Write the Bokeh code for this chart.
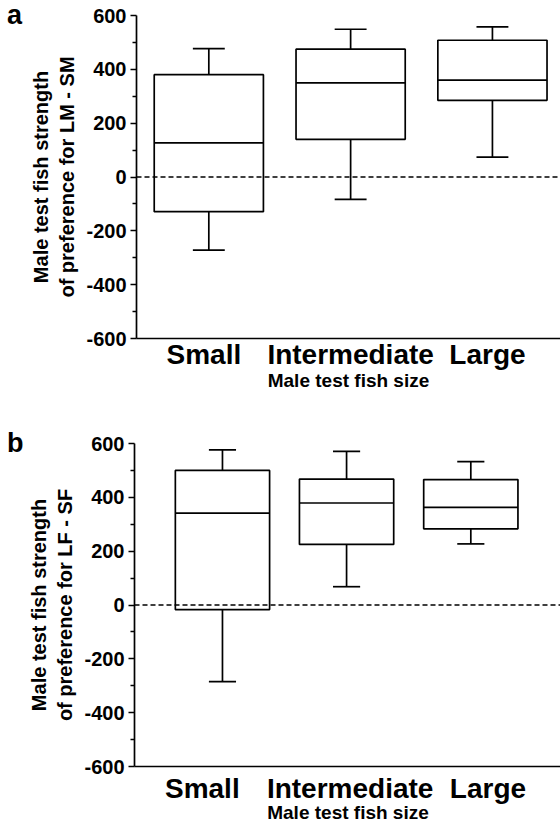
from bokeh.plotting import figure
from bokeh.layouts import column, row
from bokeh.models import Range1d, FixedTicker, Span, ColumnDataSource, Div
from bokeh.embed import file_html
from bokeh.resources import INLINE

# ---------------- data ----------------
categories = ["Small", "Intermediate", "Large"]
y_ticks = [-600, -400, -200, 0, 200, 400, 600]
y_tick_labels = ["-600", "-400", "-200", "0", "200", "400", "600"]

# panel a: preference for LM - SM
a_low = [-272, -83, 74]
a_q1 = [-129, 140, 285]
a_med = [127, 350, 360]
a_q3 = [380, 475, 508]
a_high = [477, 549, 558]

# panel b: preference for LF - SF
b_low = [-285, 68, 227]
b_q1 = [-17, 225, 283]
b_med = [341, 379, 363]
b_q3 = [500, 468, 466]
b_high = [576, 571, 533]

FONT = "Liberation Sans"
LETTER_W = 25


def letter_div(letter, height, top):
    html = ('<div style="position:relative; left:7px; top:%dpx; margin:0; padding:0; '
            'font-family:\'Liberation Sans\', Arial, sans-serif; font-weight:bold; '
            'font-size:27px; line-height:31px; color:black;">%s</div>' % (top, letter))
    return Div(text=html, width=LETTER_W, height=height, margin=0)


def make_panel(ylabel, low, q1, med, q3, high, centers, box_w, cap_w,
               left_b, top_b, bottom_b, cat_standoff, lab_standoff):
    p = figure(width=560 - LETTER_W, height=top_b + 323 + bottom_b,
               frame_width=560 - LETTER_W - left_b, frame_height=323,
               output_backend="svg", toolbar_location=None,
               x_range=Range1d(0.49, 3.48), y_range=Range1d(-600, 600),
               min_border_left=left_b, min_border_right=0,
               min_border_top=top_b, min_border_bottom=bottom_b)
    p.outline_line_color = None
    p.xgrid.visible = False
    p.ygrid.visible = False
    p.background_fill_color = "white"

    src = ColumnDataSource(dict(
        x=centers,
        left=[c - box_w / 2 for c in centers],
        right=[c + box_w / 2 for c in centers],
        cl=[c - cap_w / 2 for c in centers],
        cr=[c + cap_w / 2 for c in centers],
        low=low, q1=q1, med=med, q3=q3, high=high,
    ))

    # zero reference line
    p.add_layout(Span(location=0, dimension="width", line_color="black",
                      line_width=1.4, line_dash="5 3"))

    lw = 1.7
    # whiskers
    p.segment(x0="x", y0="q3", x1="x", y1="high", source=src, line_color="black", line_width=lw)
    p.segment(x0="x", y0="q1", x1="x", y1="low", source=src, line_color="black", line_width=lw)
    p.segment(x0="cl", y0="high", x1="cr", y1="high", source=src, line_color="black", line_width=lw)
    p.segment(x0="cl", y0="low", x1="cr", y1="low", source=src, line_color="black", line_width=lw)
    # boxes
    p.quad(left="left", right="right", bottom="q1", top="q3", source=src,
           fill_alpha=0, line_color="black", line_width=lw)
    # medians
    p.segment(x0="left", y0="med", x1="right", y1="med", source=src, line_color="black", line_width=lw)

    # y axis
    ya = p.yaxis[0]
    ya.ticker = FixedTicker(ticks=y_ticks, minor_ticks=[-500, -300, -100, 100, 300, 500])
    ya.major_label_overrides = dict(zip(y_ticks, y_tick_labels))
    ya.major_tick_out = 6
    ya.major_tick_in = 0
    ya.minor_tick_out = 4
    ya.minor_tick_in = 0
    ya.axis_line_width = lw
    ya.major_tick_line_width = lw
    ya.minor_tick_line_width = 1.4
    ya.major_label_text_font = FONT
    ya.major_label_text_font_style = "bold"
    ya.major_label_text_font_size = "20px"
    ya.major_label_text_color = "black"
    ya.major_label_standoff = 4
    ya.axis_label = ylabel
    ya.axis_label_text_font = FONT
    ya.axis_label_text_font_style = "bold"
    ya.axis_label_text_font_size = "20px"
    ya.axis_label_text_color = "black"
    ya.axis_label_standoff = 5

    # x axis
    xa = p.xaxis[0]
    xa.ticker = FixedTicker(ticks=[0.965, 2.0, 2.965], minor_ticks=[])
    xa.major_label_overrides = {0.965: categories[0], 2.0: categories[1], 2.965: categories[2]}
    xa.major_tick_out = 0
    xa.major_tick_in = 0
    xa.minor_tick_out = 0
    xa.minor_tick_in = 0
    xa.axis_line_width = lw
    xa.major_label_text_font = FONT
    xa.major_label_text_font_style = "bold"
    xa.major_label_text_font_size = "28px"
    xa.major_label_text_color = "black"
    xa.major_label_standoff = cat_standoff
    xa.axis_label = "Male test fish size"
    xa.axis_label_text_font = FONT
    xa.axis_label_text_font_style = "bold"
    xa.axis_label_text_font_size = "19px"
    xa.axis_label_text_color = "black"
    xa.axis_label_standoff = lab_standoff
    return p


pa = make_panel("Male test fish strength\nof preference for LM - SM",
                a_low, a_q1, a_med, a_q3, a_high,
                centers=[1.0, 2.0, 3.0], box_w=0.77, cap_w=0.225,
                left_b=136 - LETTER_W, top_b=15, bottom_b=78, cat_standoff=0, lab_standoff=-3)
pb = make_panel("Male test fish strength\nof preference for LF - SF",
                b_low, b_q1, b_med, b_q3, b_high,
                centers=[1.106, 1.975, 2.845], box_w=0.66, cap_w=0.19,
                left_b=133 - LETTER_W, top_b=27, bottom_b=66, cat_standoff=6, lab_standoff=-5)

la = letter_div("a", 416, 0)
lb = letter_div("b", 416, 12)

layout = column(row(la, pa, spacing=0), row(lb, pb, spacing=0), spacing=0)
open("out.html", "w").write(file_html(layout, INLINE))
